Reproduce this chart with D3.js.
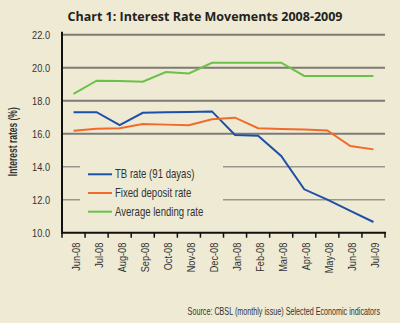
<!DOCTYPE html>
<html>
<head>
<meta charset="utf-8">
<script src="https://cdn.jsdelivr.net/npm/d3@7"></script>
<style>
  body { margin: 0; background: #efead3; }
  svg { display: block; }
  .narrow { font-family: "Liberation Sans", Arial, sans-serif; }
</style>
</head>
<body>
<svg id="chart"></svg>
<script>
const width = 400;
const height = 323;
const margin = { top: 34.7, right: 15, bottom: 90.3, left: 62 };

// months along the x axis, as printed
const months = ["Jun-08", "Jul-08", "Aug-08", "Sep-08", "Oct-08", "Nov-08", "Dec-08",
  "Jan-08", "Feb-08", "Mar-08", "Apr-08", "May-08", "Jun-08", "Jul-09"];

const tbRate = [17.3, 17.3, 16.52, 17.27, 17.3, 17.32, 17.35, 15.92, 15.88, 14.65, 12.63, 12.0, 11.32, 10.65];
const fixedDeposit = [16.18, 16.3, 16.33, 16.59, 16.55, 16.51, 16.87, 16.97, 16.33, 16.29, 16.26, 16.2, 15.25, 15.05];
const avgLending = [18.41, 19.21, 19.19, 19.15, 19.74, 19.65, 20.3, 20.3, 20.3, 20.3, 19.5, 19.5, 19.5, 19.5];

const yTicks = [10, 12, 14, 16, 18, 20, 22];

const series = [
  { name: "TB rate (91 dayas)", values: tbRate, color: "#1d50a8" },
  { name: "Fixed deposit rate", values: fixedDeposit, color: "#f26a2a" },
  { name: "Average lending rate", values: avgLending, color: "#6cc04a" }
];

// squeeze factor for the condensed labels
const squeeze = 0.8;

const svg = d3.select("#chart").attr("width", width).attr("height", height);

const innerW = width - margin.left - margin.right;
const innerH = height - margin.top - margin.bottom;

const g = svg.append("g").attr("transform", `translate(${margin.left},${margin.top})`);

// condensed text: place, optionally rotate, then squeeze along the text direction
function narrowText(parent, x, y, str, opts = {}) {
  const t = parent.append("text")
    .attr("class", "narrow")
    .attr("transform", `translate(${x},${y})${opts.rotate ? ` rotate(${opts.rotate})` : ""} scale(${opts.squeeze || squeeze},1)`)
    .attr("text-anchor", opts.anchor || "start")
    .attr("font-size", opts.size || 11)
    .attr("font-weight", opts.weight || "normal")
    .attr("fill", "#333")
    .text(str);
  return t;
}

// scales: one band per month, lines pass through band centres
const xScale = d3.scaleBand().domain(d3.range(months.length)).range([0, innerW]);
const yScale = d3.scaleLinear().domain([10, 22]).range([innerH, 0]);

// title
svg.append("text")
  .attr("x", 205)
  .attr("y", 21)
  .attr("text-anchor", "middle")
  .attr("font-family", "'Open Sans', sans-serif")
  .attr("font-weight", "bold")
  .attr("font-size", 12.5)
  .attr("fill", "#222")
  .text("Chart 1: Interest Rate Movements 2008-2009");

// horizontal grid lines
g.append("g")
  .selectAll("line")
  .data(yTicks.filter(d => d > 10))
  .join("line")
  .attr("x1", 0)
  .attr("x2", innerW)
  .attr("y1", d => yScale(d))
  .attr("y2", d => yScale(d))
  .attr("stroke", d => d < 16 ? "#9a978a" : "#7c7b76")
  .attr("stroke-width", d => d < 16 ? 1.5 : 2);

// y tick labels
const yLabels = g.append("g");
yTicks.forEach(d => narrowText(yLabels, -12, yScale(d) + 4, d.toFixed(1), { anchor: "end", size: 11.5 }));

// y axis title
narrowText(svg, 17, margin.top + innerH / 2 + 8, "Interest rates (%)",
  { rotate: -90, anchor: "middle", size: 12.5, weight: "bold", squeeze: 0.68 });

// legend box covers the lower grid lines
const legend = g.append("g").attr("transform", "translate(18,128)");
legend.append("rect")
  .attr("x", 0).attr("y", 0)
  .attr("width", 143).attr("height", 62)
  .attr("fill", "#efead3");
series.forEach((s, i) => {
  const ly = 11.6 + i * 18.7;
  legend.append("line")
    .attr("x1", 8).attr("x2", 32)
    .attr("y1", ly).attr("y2", ly)
    .attr("stroke", s.color)
    .attr("stroke-width", 2);
  narrowText(legend, 35, ly + 4, s.name, { size: 12 });
});

// data lines
const line = d3.line()
  .x((_, i) => xScale(i) + xScale.bandwidth() / 2)
  .y(d => yScale(d));

series.forEach(s => {
  g.append("path")
    .datum(s.values)
    .attr("fill", "none")
    .attr("stroke", s.color)
    .attr("stroke-width", 2)
    .attr("stroke-linejoin", "miter")
    .attr("d", line);
});

// x axis with ticks between months
const xAxis = g.append("g").attr("transform", `translate(0,${innerH})`);
xAxis.append("line")
  .attr("x1", -1).attr("x2", innerW + 1)
  .attr("stroke", "#111").attr("stroke-width", 2);
xAxis.selectAll(".tick")
  .data(d3.range(months.length + 1))
  .join("line")
  .attr("class", "tick")
  .attr("x1", d => d < months.length ? xScale(d) : innerW)
  .attr("x2", d => d < months.length ? xScale(d) : innerW)
  .attr("y1", 0).attr("y2", 5)
  .attr("stroke", "#111").attr("stroke-width", 1.5);
months.forEach((m, i) => {
  narrowText(xAxis, xScale(i) + xScale.bandwidth() / 2 + 6, 10, m, { rotate: -90, anchor: "end", size: 11.5 });
});

// y axis line
g.append("line")
  .attr("x1", 0).attr("x2", 0)
  .attr("y1", -3).attr("y2", innerH + 1)
  .attr("stroke", "#111").attr("stroke-width", 2);

// source note
narrowText(svg, 380, 315, "Source: CBSL (monthly issue) Selected Economic indicators",
  { anchor: "end", size: 10, squeeze: 0.72 });
</script>
</body>
</html>
